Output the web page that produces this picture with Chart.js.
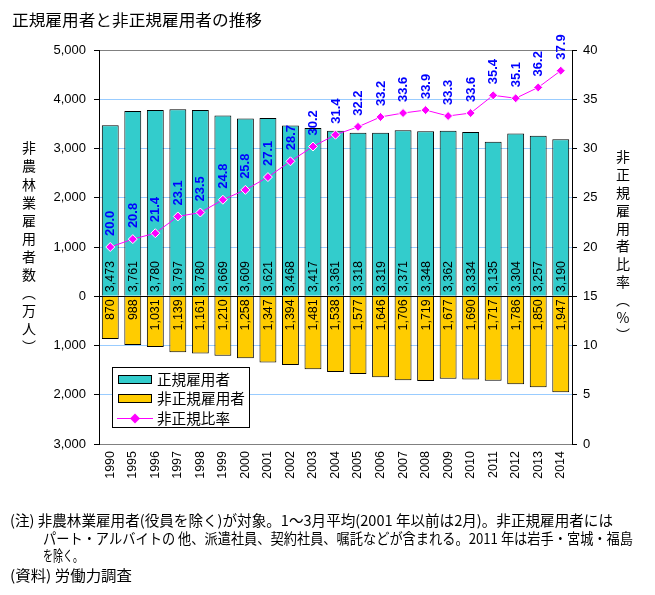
<!DOCTYPE html>
<html><head><meta charset="utf-8">
<script src="https://cdn.jsdelivr.net/npm/chart.js@4.4.1/dist/chart.umd.min.js"></script>
<style>html,body{margin:0;padding:0;background:#fff;}canvas{display:block;}</style>
</head><body>
<canvas id="c" width="655" height="595"></canvas>
<script>
const years = ['1990','1995','1996','1997','1998','1999','2000','2001','2002','2003','2004','2005','2006','2007','2008','2009','2010','2011','2012','2013','2014'];
const regular = [3473,3761,3780,3797,3780,3669,3609,3621,3468,3417,3361,3318,3319,3371,3348,3362,3334,3135,3304,3257,3190];
const nonRegular = [870,988,1031,1139,1161,1210,1258,1347,1394,1481,1538,1577,1646,1706,1719,1677,1690,1717,1786,1850,1947];
const ratio = [20.0,20.8,21.4,23.1,23.5,24.8,25.8,27.1,28.7,30.2,31.4,32.2,33.2,33.6,33.9,33.3,33.6,35.4,35.1,36.2,37.9];
const leftTicks = [-3000,-2000,-1000,0,1000,2000,3000,4000,5000];
const rightTicks = [0,5,10,15,20,25,30,35,40];

const JP = "'Noto Sans CJK JP', sans-serif";
const NUM = "'Liberation Sans', Arial, sans-serif";
const fmt = v => Math.abs(v).toLocaleString('en-US');

function fitText(ctx, text, x, y, w) {
  const nat = ctx.measureText(text).width;
  const k = w / nat;
  ctx.save();
  ctx.translate(x, y);
  ctx.scale(k, 1);
  ctx.textAlign = 'left';
  ctx.fillText(text, 0, 0);
  ctx.restore();
}

const labelsPlugin = {
  id: 'labelsPlugin',
  afterDatasetsDraw(chart) {
    const ctx = chart.ctx;
    const y = chart.scales.y;
    const zero = y.getPixelForValue(0);
    const m0 = chart.getDatasetMeta(0), m1 = chart.getDatasetMeta(1), m2 = chart.getDatasetMeta(2);
    ctx.save();
    ctx.font = '12.5px ' + NUM;
    ctx.fillStyle = '#000';
    ctx.textBaseline = 'middle';
    regular.forEach((v, i) => {
      const x = m0.data[i].x;
      ctx.save(); ctx.translate(x, zero - 4); ctx.rotate(-Math.PI/2);
      ctx.textAlign = 'left'; ctx.fillText(fmt(v), 0, 0.5); ctx.restore();
    });
    nonRegular.forEach((v, i) => {
      const x = m1.data[i].x;
      ctx.save(); ctx.translate(x, zero + 3); ctx.rotate(-Math.PI/2);
      ctx.textAlign = 'right'; ctx.fillText(fmt(v), 0, 0.5); ctx.restore();
    });
    ctx.font = 'bold 13px ' + NUM;
    ctx.fillStyle = '#0000FF';
    ratio.forEach((v, i) => {
      const p = m2.data[i];
      ctx.save(); ctx.translate(p.x, p.y - 11); ctx.rotate(-Math.PI/2);
      ctx.textAlign = 'left'; ctx.fillText(v.toFixed(1), 0, 0.5); ctx.restore();
    });
    ctx.restore();
  },
  afterDraw(chart) {
    const ctx = chart.ctx;
    ctx.save();
    ctx.fillStyle = '#000';
    ctx.textBaseline = 'middle';
    ctx.textAlign = 'left';
    ctx.font = '16px ' + JP;
    fitText(ctx, '正規雇用者と非正規雇用者の推移', 12, 20, 250);
    // vertical axis titles
    ctx.font = '14px ' + JP;
    ctx.textAlign = 'center';
    const leftT = ['非','農','林','業','雇','用','者','数','︵','万','人','︶'];
    leftT.forEach((ch, i) => ctx.fillText(ch, 29, 148 + i * 18.1));
    const rightT = ['非','正','規','雇','用','者','比','率','︵','%','︶'];
    rightT.forEach((ch, i) => ctx.fillText(ch, 623, 157 + i * 17.8));
    // legend
    ctx.fillStyle = '#fff';
    ctx.fillRect(112.5, 367.5, 137, 60);
    ctx.strokeStyle = '#000'; ctx.lineWidth = 1;
    ctx.strokeRect(112.5, 367.5, 137, 60);
    ctx.fillStyle = '#33CCCC'; ctx.fillRect(118.5, 375.5, 33, 8); ctx.strokeRect(118.5, 375.5, 33, 8);
    ctx.fillStyle = '#FFCC00'; ctx.fillRect(118.5, 394.5, 33, 8); ctx.strokeRect(118.5, 394.5, 33, 8);
    ctx.strokeStyle = '#FF00FF';
    ctx.beginPath(); ctx.moveTo(117, 418.5); ctx.lineTo(153, 418.5); ctx.stroke();
    ctx.fillStyle = '#FF00FF';
    ctx.beginPath(); ctx.moveTo(135, 413.5); ctx.lineTo(140, 418.5); ctx.lineTo(135, 423.5); ctx.lineTo(130, 418.5); ctx.closePath(); ctx.fill();
    ctx.fillStyle = '#000';
    ctx.textAlign = 'left';
    ctx.font = '14.5px ' + JP;
    fitText(ctx, '正規雇用者', 157, 379, 73);
    fitText(ctx, '非正規雇用者', 157, 398, 88);
    fitText(ctx, '非正規比率', 157, 418, 73);
    // notes
    ctx.font = '14.5px ' + JP;
    fitText(ctx, '(注) 非農林業雇用者(役員を除く)が対象。1～3月平均(2001 年以前は2月)。非正規雇用者には', 10, 520, 603);
    fitText(ctx, 'パート・アルバイトの 他、派遣社員、契約社員、嘱託などが含まれる。2011 年は岩手・宮城・福島', 43, 538, 590);
    fitText(ctx, 'を除く。', 43, 555, 40);
    fitText(ctx, '(資料) 労働力調査', 10, 575, 122);
    ctx.restore();
  }
};

new Chart(document.getElementById('c'), {
  data: {
    labels: years,
    datasets: [
      { type: 'bar', label: '正規雇用者', data: regular, backgroundColor: '#33CCCC', borderColor: '#000', borderWidth: 1, yAxisID: 'y', order: 2, barPercentage: 0.75, categoryPercentage: 1 },
      { type: 'bar', label: '非正規雇用者', data: nonRegular.map(v => -v), backgroundColor: '#FFCC00', borderColor: '#000', borderWidth: 1, yAxisID: 'y', order: 2, barPercentage: 0.75, categoryPercentage: 1 },
      { type: 'line', label: '非正規比率', data: ratio, yAxisID: 'y1', borderColor: '#FF00FF', borderWidth: 1, pointStyle: 'rectRot', pointRadius: 4.5, pointBackgroundColor: '#FF00FF', pointBorderColor: '#fff', pointBorderWidth: 1, order: 0 }
    ]
  },
  options: {
    responsive: false,
    animation: false,
    devicePixelRatio: 1,
    layout: { padding: { top: 50, left: 0, right: 0, bottom: 0 } },
    plugins: { legend: { display: false }, tooltip: { enabled: false }, title: { display: false } },
    scales: {
      x: {
        stacked: true,
        grid: { display: false, drawTicks: false },
        border: { color: '#808080' },
        ticks: { color: '#000', font: { size: 12.5, family: NUM }, minRotation: 90, maxRotation: 90, padding: 7 },
        afterFit(s) { s.height = 151; }
      },
      y: {
        stacked: true, min: -3000, max: 5000,
        afterBuildTicks(s) { s.ticks = leftTicks.map(v => ({ value: v })); },
        ticks: { color: '#000', font: { size: 13, family: NUM }, padding: 8, callback: v => fmt(v) },
        grid: { color: c => c.tick.value === 0 ? '#000' : ((c.tick.value === 5000 || c.tick.value === -3000) ? '#808080' : '#99CCFF'), tickColor: '#000', tickLength: 5 },
        border: { color: '#000' },
        afterFit(s) { s.width = 99; }
      },
      y1: {
        position: 'right', min: 0, max: 40,
        afterBuildTicks(s) { s.ticks = rightTicks.map(v => ({ value: v })); },
        ticks: { color: '#000', font: { size: 13, family: NUM }, padding: 6 },
        grid: { drawOnChartArea: false, tickColor: '#000', tickLength: 5 },
        border: { color: '#000' },
        afterFit(s) { s.width = 83; }
      }
    }
  },
  plugins: [labelsPlugin]
});
</script>
</body></html>
